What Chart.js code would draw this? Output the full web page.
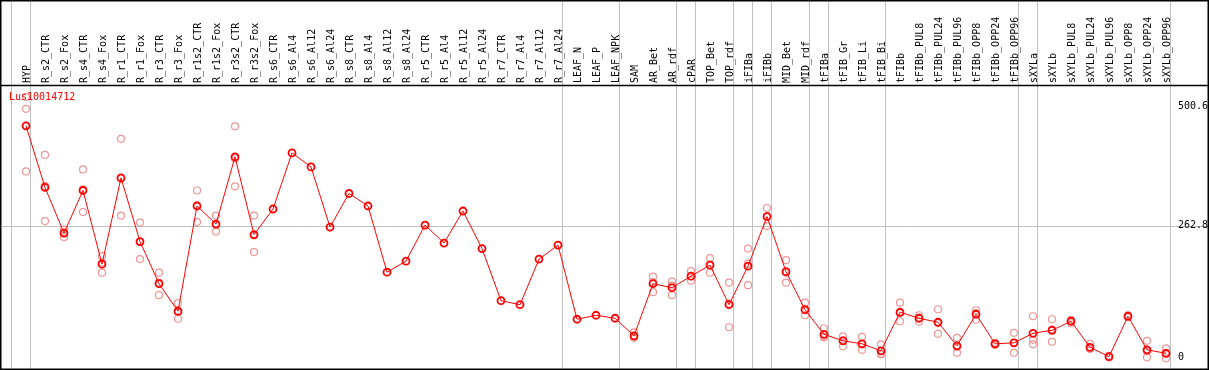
<!DOCTYPE html>
<html>
<head>
<meta charset="utf-8">
<script src="https://cdn.jsdelivr.net/npm/chart.js@4/dist/chart.umd.min.js"></script>
<style>
html,body{margin:0;padding:0;background:#fff;}
#wrap{width:1209px;height:370px;position:relative;}
</style>
</head>
<body>
<div id="wrap"><canvas id="c" width="1209" height="370"></canvas></div>
<script>
const title = "Lus10014712";
const categories = ["HYP","R_s2_CTR","R_s2_Fox","R_s4_CTR","R_s4_Fox","R_r1_CTR","R_r1_Fox","R_r3_CTR","R_r3_Fox","R_r1s2_CTR","R_r1s2_Fox","R_r3s2_CTR","R_r3s2_Fox","R_s6_CTR","R_s6_Al4","R_s6_Al12","R_s6_Al24","R_s8_CTR","R_s8_Al4","R_s8_Al12","R_s8_Al24","R_r5_CTR","R_r5_Al4","R_r5_Al12","R_r5_Al24","R_r7_CTR","R_r7_Al4","R_r7_Al12","R_r7_Al24","LEAF_N","LEAF_P","LEAF_NPK","SAM","AR_Bet","AR_rdf","cPAR","TOP_Bet","TOP_rdf","iFIBa","iFIBb","MID_Bet","MID_rdf","tFIBa","tFIB_Gr","tFIB_Li","tFIB_Bi","tFIBb","tFIBb_PUL8","tFIBb_PUL24","tFIBb_PUL96","tFIBb_OPP8","tFIBb_OPP24","tFIBb_OPP96","sXYLa","sXYLb","sXYLb_PUL8","sXYLb_PUL24","sXYLb_PUL96","sXYLb_OPP8","sXYLb_OPP24","sXYLb_OPP96"];
const meanValues = [462,339,248,333,186,358,231,147,92,302,266,400,245,296,408,380,260,327,302,170,192,264,228,292,217,113,105,196,224,76,84,78,43,147,139,162,184,105,182,281,171,95,46,33,27,13,90,78,70,23,86,27,29,48,54,72,20,1.4,82,15,8];
const rep1 = [520,404,255,375,202,436,269,169,108,333,283,461,283,null,null,null,null,null,null,null,null,null,null,null,null,null,null,null,null,null,null,null,50,161,151,172,198,149,217,298,194,109,58,42,41,26,109,84,96,39,94,29,49,82,76,75,27,3,84,33,18];
const rep2 = [371,272,240,290,169,283,196,124,77,270,251,341,210,null,null,null,null,null,null,null,null,null,null,null,null,null,null,null,null,null,null,null,39,130,124,153,169,60,144,262,149,84,42,22,15,7,72,71,47,9,75,25,9,26,31,68,17,0,80,0,-2];
const rep3 = [496,342,249,335,189,357,230,149,90,303,265,397,243,null,null,null,null,null,null,null,null,null,null,null,null,null,null,null,null,null,null,null,41,150,143,162,185,107,187,281,169,94,40,34,26,6,88,79,68,21,88,27,29,35,56,73,17,1,81,12,8];
const yTickValues = [0, 262.8, 500.6];
const yTickLabels = ["0", "262.8", "500.6"];
const groupEndIndices = [-1,0,28,31,34,35,37,38,39,41,42,45,52,53,60];

const FONT = '10px "DejaVu Sans Mono", monospace';
const GRID = '#c0c0c0';
const PINK = 'rgb(238,150,150)';

const decor = {
  id: 'decor',
  beforeDatasetsDraw(chart) {
    const ctx = chart.ctx, x = chart.scales.x, y = chart.scales.y;
    const W = chart.width, H = chart.height;
    const step = x.getPixelForValue(1) - x.getPixelForValue(0);
    ctx.save();
    ctx.strokeStyle = GRID; ctx.lineWidth = 1;
    groupEndIndices.forEach(i => {
      const px = Math.floor(x.getPixelForValue(0) + step * i + 4.4) + 0.5;
      ctx.beginPath(); ctx.moveTo(px, 0); ctx.lineTo(px, H); ctx.stroke();
    });
    const gy = Math.round(y.getPixelForValue(yTickValues[1])) + 0.5;
    ctx.beginPath(); ctx.moveTo(0, gy); ctx.lineTo(W, gy); ctx.stroke();
    ctx.restore();
  },
  afterDatasetsDraw(chart) {
    const ctx = chart.ctx, x = chart.scales.x, y = chart.scales.y;
    const W = chart.width, H = chart.height;
    ctx.save();
    ctx.font = FONT;
    ctx.fillStyle = '#000';
    ctx.textAlign = 'left'; ctx.textBaseline = 'middle';
    categories.forEach((c, i) => {
      const px = x.getPixelForValue(i) + 1;
      ctx.save();
      ctx.translate(px, 83);
      ctx.rotate(-Math.PI / 2);
      ctx.fillText(c, 0, 0);
      ctx.restore();
    });
    yTickValues.forEach((v, i) => {
      ctx.fillText(yTickLabels[i], 1178, y.getPixelForValue(v));
    });
    ctx.fillStyle = '#ff0000';
    ctx.fillText(title, 9, 97);
    ctx.strokeStyle = '#000'; ctx.lineWidth = 1.5;
    ctx.strokeRect(0.75, 0.75, W - 1.5, H - 1.5);
    ctx.beginPath(); ctx.moveTo(0, 85.5); ctx.lineTo(W, 85.5); ctx.stroke();
    ctx.restore();
  }
};

function repDataset(arr) {
  return {
    type: 'line', data: arr, showLine: false,
    pointStyle: 'circle', pointRadius: 3.5, pointBorderWidth: 1.2,
    pointBorderColor: PINK, pointBackgroundColor: 'rgba(0,0,0,0)',
    borderColor: PINK, clip: false, order: 2
  };
}

new Chart(document.getElementById('c'), {
  type: 'line',
  data: {
    labels: categories,
    datasets: [
      {
        data: meanValues, borderColor: '#ff0000', borderWidth: 1,
        pointStyle: 'circle', pointRadius: 3.5, pointBorderWidth: 1.8,
        pointBorderColor: '#ff0000', pointBackgroundColor: 'rgba(0,0,0,0)',
        tension: 0, clip: false, order: 1
      },
      repDataset(rep1), repDataset(rep2), repDataset(rep3)
    ]
  },
  options: {
    responsive: false, animation: false, devicePixelRatio: 1,
    layout: { padding: { left: 26, right: 43, top: 85, bottom: 1 } },
    plugins: { legend: { display: false }, tooltip: { enabled: false }, title: { display: false } },
    scales: {
      x: { type: 'category', display: false, offset: false },
      y: { type: 'linear', display: false, min: -13.7, max: 543.5 }
    }
  },
  plugins: [decor]
});
</script>
</body>
</html>
